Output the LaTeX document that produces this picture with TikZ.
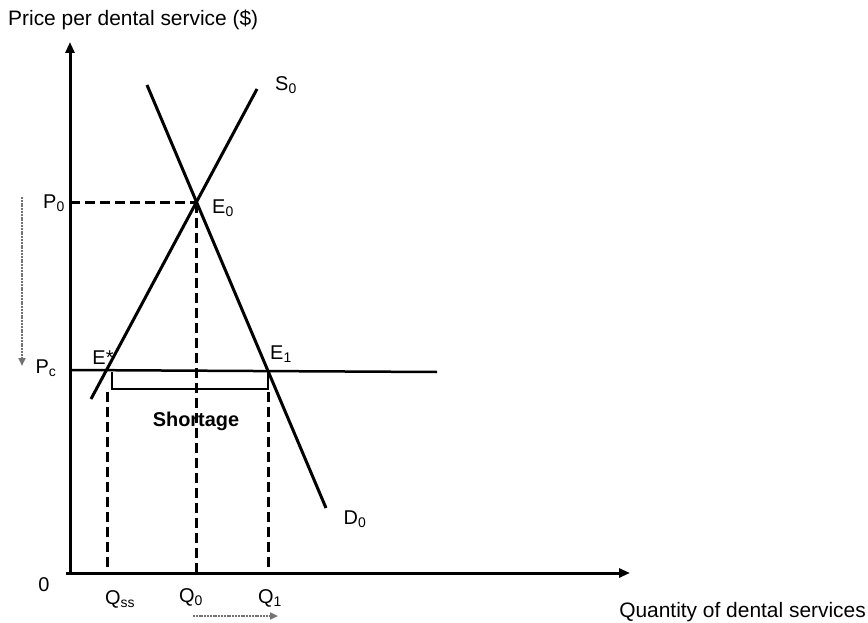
\documentclass[tikz,border=0pt]{standalone}
\usepackage{fontspec}
\setmainfont{Liberation Sans}
\usetikzlibrary{arrows.meta}
\begin{document}
\begin{tikzpicture}[x=1bp,y=-1bp,
  lbl/.style={font=\fontsize{20}{22}\selectfont, inner sep=0pt, anchor=center},
  ttl/.style={font=\fontsize{21}{24}\selectfont, inner sep=0pt},
  axisline/.style={line width=3bp, -{Triangle[length=11bp,width=9bp]}},
  curveline/.style={line width=3bp},
  dashline/.style={line width=3bp, dash pattern=on 10bp off 5bp},
  shiftarrow/.style={black!55, line width=2.5bp, dash pattern=on 2bp off 0.8bp, -{Triangle[length=8bp,width=7bp]}},
  bracketline/.style={line width=2.5bp}
]
\useasboundingbox (0,0) rectangle (868,623);
% key points
\coordinate (O) at (70,573);
\coordinate (Ytop) at (70,42);
\coordinate (Xend) at (630,573);
\coordinate (Sbot) at (91,399);
\coordinate (Stop) at (257,89);
\coordinate (Dtop) at (147,85);
\coordinate (Dbot) at (326,508);
\coordinate (E0) at (196,203);
\coordinate (P0a) at (70,203);
\coordinate (PcA) at (70,370);
\coordinate (PcB) at (437,372);
\coordinate (BL) at (112,372);
\coordinate (BLb) at (112,389);
\coordinate (BRb) at (268,389);
\coordinate (BR) at (268,372);
\coordinate (QssT) at (107,392);
\coordinate (QssB) at (107,573);
\coordinate (Q0B) at (196,573);
\coordinate (Q1T) at (268,392);
\coordinate (Q1B) at (268,573);
\coordinate (LA1) at (22,197);
\coordinate (LA2) at (22,366);
\coordinate (BA1) at (193,616);
\coordinate (BA2) at (278,616);

% axes
\draw[axisline] (O) -- (Ytop);
\draw[axisline] ([xshift=-4bp]O) -- (Xend);

% price control line
\draw[line width=2.5bp] (PcA) -- (PcB);

% dashed guides
\draw[dashline] (P0a) -- (E0);
\draw[dashline] (E0) -- (Q0B);
\draw[dashline] (QssT) -- (QssB);
\draw[dashline] (Q1T) -- (Q1B);

% supply and demand
\draw[curveline] (Sbot) -- (Stop);
\draw[curveline] (Dtop) -- (Dbot);

% shortage bracket
\draw[bracketline] (BL) -- (BLb) -- (BRb) -- (BR);

% shift arrows
\draw[shiftarrow] (LA1) -- (LA2);
\draw[shiftarrow] (BA1) -- (BA2);

% labels
\node[ttl, anchor=west] (ytitle) at (8,20) {Price per dental service (\$)};
\node[ttl, anchor=east] (xtitle) at (866,612) {Quantity of dental services};
\node[lbl] (S0) at (286,85) {S\textsubscript{0}};
\node[lbl] (D0) at (355,519) {D\textsubscript{0}};
\node[lbl] (E0l) at (223,208) {E\textsubscript{0}};
\node[lbl] (E1l) at (281,354) {E\textsubscript{1}};
\node[lbl] (Estl) at (103,358) {E*};
\node[lbl] (P0l) at (54,203) {P\textsubscript{0}};
\node[lbl] (Pcl) at (46,368) {P\textsubscript{c}};
\node[lbl] (zero) at (44,585) {0};
\node[lbl] (Qssl) at (120,599) {Q\textsubscript{ss}};
\node[lbl] (Q0l) at (191,597) {Q\textsubscript{0}};
\node[lbl] (Q1l) at (270,598) {Q\textsubscript{1}};
\node[lbl, font=\fontsize{20}{22}\selectfont\bfseries] (short) at (196,421) {Shortage};
\end{tikzpicture}
\end{document}
